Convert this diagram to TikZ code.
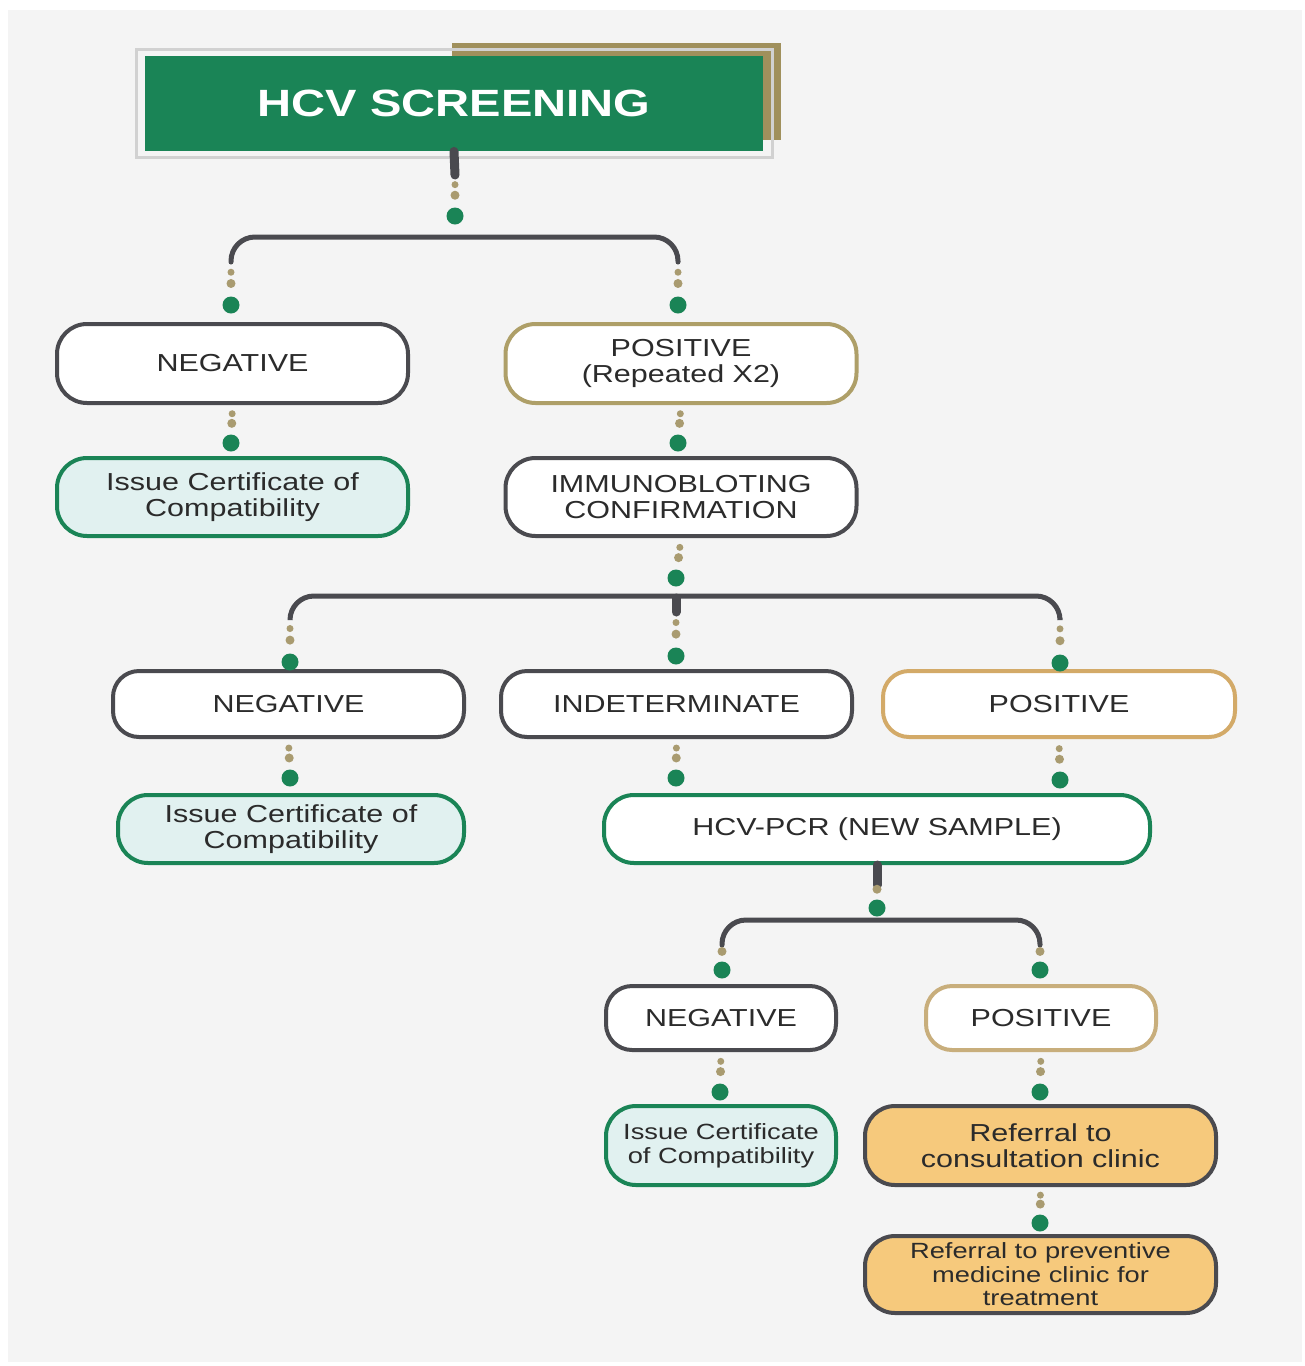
\documentclass[tikz,border=0pt]{standalone}
\usepackage{fontspec}
\setmainfont{Liberation Sans}[FakeStretch=1.24]

\definecolor{panel}{HTML}{F4F4F4}
\definecolor{hcvgreen}{HTML}{1A8456}
\definecolor{hcvgold}{HTML}{A0905C}
\definecolor{dotgold}{HTML}{A99B70}
\definecolor{linegray}{HTML}{4A4A4F}
\definecolor{posgold}{HTML}{AE9F68}
\definecolor{posorange}{HTML}{D3AA68}
\definecolor{poslight}{HTML}{C8AE7C}
\definecolor{certfill}{HTML}{E1F1F0}
\definecolor{referfill}{HTML}{F6C97C}
\definecolor{txt}{HTML}{2B2B2B}

\tikzset{
  box/.style={draw=linegray, line width=2pt, rounded corners=15pt, fill=white,
    align=center, text=txt, font=\fontsize{12.3}{13.3}\selectfont, inner sep=2pt},
  posbox/.style={box, draw=posgold},
  certbox/.style={box, draw=hcvgreen, fill=certfill},
  referbox/.style={box, fill=referfill},
  gdot/.style={circle, fill=hcvgreen, inner sep=0pt, minimum size=8.5pt},
  mdot/.style={circle, fill=dotgold, inner sep=0pt, minimum size=4.5pt},
  sdot/.style={circle, fill=dotgold, inner sep=0pt, minimum size=3.5pt},
  bar/.style={draw=linegray, line width=2.5pt, rounded corners=12pt, line cap=round},
  stub/.style={draw=linegray, line width=4.5pt, line cap=round}
}
\newcommand{\Chain}[2]{\path (#1) -- (#2) node[sdot,pos=.3]{} node[mdot,pos=.63]{};}
\newcommand{\Short}[3]{\path (#1) -- (#2) node[mdot,pos=#3]{};}

\begin{document}
\begin{tikzpicture}[x=0.5pt, y=-0.5pt]
  \fill[white] (0,0) rectangle (1305,1366);
  \fill[panel] (8,10) rectangle (1302,1362);
  \useasboundingbox (0,0) rectangle (1305,1366);

  \fill[hcvgold] (452,43) rectangle (781,140);
  \draw[black!18, line width=1.5pt] (136,49) rectangle (772,157);
  \node[fill=hcvgreen, minimum width=309pt, minimum height=47.5pt, text=white,
        font=\fontsize{19}{22}\selectfont\bfseries] (title) at (454,103.5) {HCV SCREENING};

  \node[box,     minimum width=175.5pt, minimum height=39.5pt] (negA) at (232.5,363.5) {NEGATIVE};
  \node[posbox,  minimum width=175.5pt, minimum height=39.5pt] (posA) at (681,363.5) {POSITIVE\\(Repeated X2)};
  \node[certbox, minimum width=175.5pt, minimum height=39pt]   (certA) at (232.5,497) {Issue Certificate of\\Compatibility};
  \node[box,     minimum width=175.5pt, minimum height=39pt]   (immA) at (681,497) {IMMUNOBLOTING\\CONFIRMATION};

  \node[box, rounded corners=13pt, minimum width=175.5pt, minimum height=33pt] (negB) at (288.5,704) {NEGATIVE};
  \node[box, rounded corners=13pt, minimum width=175.5pt, minimum height=33pt] (indB) at (676.5,704) {INDETERMINATE};
  \node[posbox, draw=posorange, rounded corners=13pt, minimum width=176pt, minimum height=33pt] (posB) at (1059,704) {POSITIVE};
  \node[certbox, minimum width=173pt, minimum height=34pt] (certB) at (291,829) {Issue Certificate of\\Compatibility};
  \node[box, draw=hcvgreen, minimum width=273pt, minimum height=34pt] (pcrB) at (877,829) {HCV-PCR (NEW SAMPLE)};

  \node[box, rounded corners=13pt, minimum width=115pt, minimum height=32pt] (negC) at (721,1018) {NEGATIVE};
  \node[posbox, draw=poslight, rounded corners=13pt, minimum width=115pt, minimum height=32pt] (posC) at (1041,1018) {POSITIVE};
  \node[certbox, minimum width=115pt, minimum height=39.5pt, font=\fontsize{11}{12}\selectfont] (certC) at (721,1145.5) {Issue Certificate\\of Compatibility};
  \node[referbox, minimum width=175.5pt, minimum height=39.5pt] (refC) at (1040.5,1145.5) {Referral to\\consultation clinic};
  \node[referbox, minimum width=175.5pt, minimum height=38.5pt, font=\fontsize{11}{11.8}\selectfont] (prevC) at (1040.5,1274.5) {Referral to preventive\\medicine clinic for\\treatment};

  \node[gdot] (d0)  at (455,216) {};
  \node[gdot] (dA1) at (231,305) {};
  \node[gdot] (dA2) at (678,305) {};
  \node[gdot] (dA3) at (231,443) {};
  \node[gdot] (dA4) at (678,443) {};
  \node[gdot] (dB0) at (676,578) {};
  \node[gdot] (dB1) at (290,662) {};
  \node[gdot] (dB2) at (676,656) {};
  \node[gdot] (dB3) at (1060,663) {};
  \node[gdot] (dB4) at (290,778) {};
  \node[gdot] (dB5) at (676,778) {};
  \node[gdot] (dB6) at (1060,780) {};
  \node[gdot] (dC0) at (877,908) {};
  \node[gdot] (dC1) at (722,970) {};
  \node[gdot] (dC2) at (1040,970) {};
  \node[gdot] (dC3) at (720,1092) {};
  \node[gdot] (dC4) at (1040,1092) {};
  \node[gdot] (dC5) at (1040,1223) {};

  \coordinate (s0) at (455,175);
  \coordinate (bA1) at (231,262);
  \coordinate (bA2) at (678,262);
  \coordinate (bB1) at (290,618);
  \coordinate (bB2) at (676,612);
  \coordinate (bB3) at (1060,618);
  \coordinate (sC) at (877,885);
  \coordinate (bC1) at (722,945);
  \coordinate (bC2) at (1040,945);

  \draw[stub] (title.south) -- (s0);
  \draw[bar] (bA1) -- (231,237) -- (678,237) -- (bA2);
  \draw[bar] (bB1) -- (290,596) -- (1060,596) -- (bB3);
  \draw[stub] (676,598) -- (bB2);
  \draw[stub] (pcrB.south) -- (sC);
  \draw[bar] (bC1) -- (722,920) -- (1040,920) -- (bC2);

  \Chain{s0}{d0}
  \Chain{bA1}{dA1}
  \Chain{bA2}{dA2}
  \Chain{negA.south}{dA3}
  \Chain{posA.south}{dA4}
  \Chain{immA.south}{dB0}
  \Chain{bB1}{dB1}
  \Chain{bB2}{dB2}
  \Chain{bB3}{dB3}
  \Chain{negB.south}{dB4}
  \Chain{indB.south}{dB5}
  \Chain{posB.south}{dB6}
  \Short{sC}{dC0}{.3}
  \Short{bC1}{dC1}{.4}
  \Short{bC2}{dC2}{.4}
  \Chain{negC.south}{dC3}
  \Chain{posC.south}{dC4}
  \Chain{refC.south}{dC5}
\end{tikzpicture}
\end{document}
